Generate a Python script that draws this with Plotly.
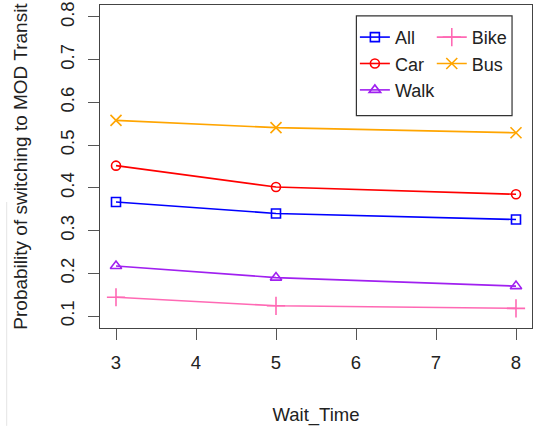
import plotly.graph_objects as go

wait_time = [3, 5, 8]
all_vals = [0.367, 0.340, 0.326]
car_vals = [0.452, 0.402, 0.385]
walk_vals = [0.217, 0.190, 0.170]
bike_vals = [0.144, 0.124, 0.118]
bus_vals = [0.558, 0.541, 0.529]

x_ticks = [3, 4, 5, 6, 7, 8]
y_ticks = [0.1, 0.2, 0.3, 0.4, 0.5, 0.6, 0.7, 0.8]
y_tick_labels = ["0.1", "0.2", "0.3", "0.4", "0.5", "0.6", "0.7", "0.8"]

FONT = "Liberation Sans, Arial, sans-serif"

# (name, values, colour, marker symbol, marker size, legend column)
series = [
    ("All", all_vals, "#0000ff", "square-open", 9, "legend"),
    ("Car", car_vals, "#ff0000", "circle-open", 9, "legend"),
    ("Walk", walk_vals, "#a020f0", "triangle-up-open", 10, "legend"),
    ("Bike", bike_vals, "#ff69b4", "cross-thin-open", 13, "legend2"),
    ("Bus", bus_vals, "#ffa500", "x-thin-open", 11, "legend2"),
]

fig = go.Figure()
for name, vals, color, sym, size, leg in series:
    fig.add_trace(go.Scatter(
        x=wait_time, y=vals, name=name, mode="lines+markers",
        line=dict(color=color, width=1.6),
        marker=dict(symbol=sym, size=size, color=color,
                    line=dict(color=color, width=1.6)),
        legend=leg,
    ))

leg_common = dict(
    orientation="v", xanchor="left", yanchor="top",
    bgcolor="rgba(0,0,0,0)", borderwidth=0, itemwidth=30,
    font=dict(family=FONT, size=18, color="#222"),
    tracegroupgap=0,
)

fig.update_layout(
    width=534, height=430,
    margin=dict(l=100, r=1, t=1, b=102),
    paper_bgcolor="white", plot_bgcolor="white",
    font=dict(family=FONT, size=18.5, color="#222"),
    showlegend=True,
    legend=dict(x=0.59, y=0.957, **leg_common),
    legend2=dict(x=0.768, y=0.957, **leg_common),
    shapes=[
        dict(type="rect", xref="paper", yref="paper",
             x0=0.5935, x1=0.9538, y0=0.6575, y1=0.9664,
             line=dict(color="#333", width=1.2), fillcolor="rgba(0,0,0,0)",
             layer="above"),
        # faint screenshot edge line at far left
        dict(type="line", xref="paper", yref="paper",
             x0=-0.216, x1=-0.216, y0=0.39, y1=-0.303,
             line=dict(color="#e4e4e4", width=1)),
    ],
    xaxis=dict(
        range=[2.8, 8.2], tickmode="array", tickvals=x_ticks,
        ticks="outside", ticklen=11, tickwidth=1.3, tickcolor="#555",
        showline=True, linecolor="#444", linewidth=1.3, mirror=True,
        showgrid=False, zeroline=False,
        title=dict(text="Wait_Time", font=dict(size=18.5), standoff=35),
        ticklabelstandoff=7, ticklabeloverflow="allow",
    ),
    yaxis=dict(
        range=[0.072, 0.828], tickmode="array", tickvals=y_ticks,
        ticktext=y_tick_labels, tickangle=-90,
        ticks="outside", ticklen=11, tickwidth=1.3, tickcolor="#555",
        showline=True, linecolor="#444", linewidth=1.3, mirror=True,
        showgrid=False, zeroline=False,
        title=dict(text="Probability of switching to MOD Transit",
                   font=dict(size=19), standoff=24),
        ticklabelstandoff=6, ticklabeloverflow="allow",
    ),
)

fig.write_html("out.html", config={"displayModeBar": False},
               post_script="document.body.style.margin='0';")
